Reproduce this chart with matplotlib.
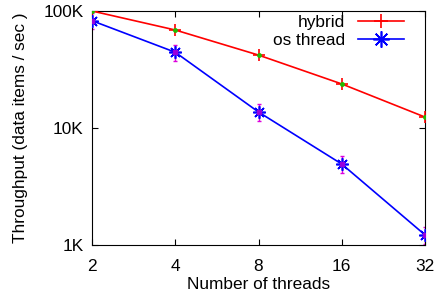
import matplotlib.pyplot as plt
import matplotlib.ticker as mticker

threads = [2, 4, 8, 16, 32]
hybrid = [100000, 68800, 42000, 23800, 12400]
os_thread = [82600, 44400, 13700, 4920, 1220]
# small spread around each point
hybrid_err = [3500, 4000, 2500, 1500, 700]
os_err = [13000, 7000, 2200, 800, 200]

plt.rcParams['font.family'] = ['Liberation Sans', 'DejaVu Sans']
plt.rcParams['font.size'] = 12.4

fig = plt.figure(figsize=(4.4, 3.02), dpi=100)
ax = fig.add_axes([0.2091, 0.1887, 0.7568, 0.7749])

ax.plot(threads, hybrid, color='red', lw=1.2, marker='+', ms=8, mew=1.2,
        label='hybrid', zorder=3)
ax.plot(threads, hybrid, ls='none', marker='o', ms=2.5, color='#22bb00', zorder=4)

ax.errorbar(threads, os_thread, yerr=os_err, fmt='none', ecolor='#dd00dd',
            elinewidth=1, capsize=1.5, zorder=2)
ax.plot(threads, os_thread, color='blue', lw=1.2, marker=(8, 2, 0), ms=9, mew=1.2,
        label='os thread', zorder=3)
ax.plot(threads, os_thread, ls='none', marker='s', ms=3, color='#9900dd', zorder=4)

ax.set_xscale('log', base=2)
ax.set_yscale('log')
ax.set_xlim(2, 32)
ax.set_ylim(1000, 100000)
ax.set_xticks(threads)
ax.xaxis.set_major_formatter(mticker.FixedFormatter([str(t) for t in threads]))
ax.xaxis.set_minor_locator(mticker.NullLocator())
ax.set_yticks([1000, 10000, 100000])
ax.set_yticklabels(['1K', '10K', '100K'])
ax.yaxis.set_minor_locator(mticker.NullLocator())
ax.tick_params(direction='in', length=4, top=True, right=True)
ax.tick_params(axis='x', pad=10)
ax.tick_params(axis='y', pad=6)

ax.set_xlabel('Number of threads', labelpad=2)
ax.set_ylabel('Throughput (data items / sec )', labelpad=11)

ax.legend(loc='upper right', bbox_to_anchor=(0.937, 0.983), frameon=False,
          markerfirst=False, handlelength=2.7, borderpad=0, borderaxespad=0,
          labelspacing=0.15, handletextpad=0.7, markerscale=1.3)

plt.savefig('out.png', dpi=100)
